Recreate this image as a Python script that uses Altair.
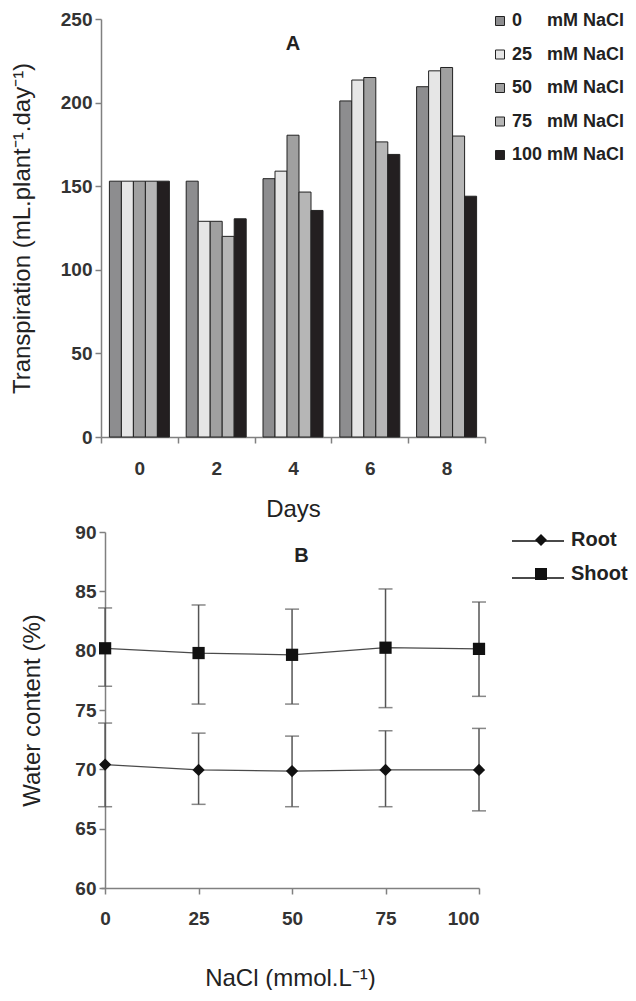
import altair as alt
import pandas as pd

# ---------------- Panel A data ----------------
days = ["0", "2", "4", "6", "8"]
concentrations = ["0", "25", "50", "75", "100"]
transp_0 = [153, 153, 154.5, 201, 209.5]
transp_25 = [153, 129, 159, 213.5, 219]
transp_50 = [153, 129, 180.5, 215, 221]
transp_75 = [153, 120, 146.5, 176.5, 180]
transp_100 = [153, 130.5, 135.5, 169, 144]
bar_colors = ["#8d8d8f", "#e6e6e6", "#a0a0a0", "#b6b6b6", "#231f20"]

# ---------------- Panel B data ----------------
nacl = [0, 25, 50, 75, 100]
root_mean = [70.4, 69.95, 69.85, 69.95, 69.95]
root_upper = [73.9, 73.05, 72.8, 73.25, 73.45]
root_lower = [66.85, 67.05, 66.85, 66.85, 66.5]
shoot_mean = [80.2, 79.8, 79.65, 80.25, 80.15]
shoot_upper = [83.6, 83.85, 83.5, 85.2, 84.1]
shoot_lower = [77.0, 75.5, 75.5, 75.2, 76.15]
series_names = ["Root", "Shoot"]
panel_letters = ["A", "B"]

FONT = "Liberation Sans"
AXIS_GREY = "#808080"
TEXT = "#222222"

conc_labels = [c + "\u00a0" * (2 * (3 - len(c))) + " mM NaCl" for c in concentrations]
rowsA = []
for lab, vals in zip(conc_labels, [transp_0, transp_25, transp_50, transp_75, transp_100]):
    for d, v in zip(days, vals):
        rowsA.append({"day": d, "conc": lab, "value": v})
dfA = pd.DataFrame(rowsA)

rowsB = []
for s, m, lo, up in [("Root", root_mean, root_lower, root_upper),
                     ("Shoot", shoot_mean, shoot_lower, shoot_upper)]:
    for x, a, b, c in zip(nacl, m, lo, up):
        rowsB.append({"series": s, "nacl": x, "mean": a, "lower": b, "upper": c})
dfB = pd.DataFrame(rowsB)

common_axis = dict(
    labelFont=FONT, labelFontSize=19, labelFontWeight="bold", labelColor="#333333",
    titleFont=FONT, titleFontSize=24, titleFontWeight="normal", titleColor=TEXT,
    domainColor=AXIS_GREY, domainWidth=1.5, tickColor=AXIS_GREY, tickWidth=1.5,
    tickSize=6, grid=False,
)

# ---------------- Chart A ----------------
xA = alt.X("day:N", sort=days,
           scale=alt.Scale(paddingInner=0, paddingOuter=0),
           axis=alt.Axis(title="Days", labelAngle=0, tickBand="extent",
                         labelPadding=16, titlePadding=19, **common_axis))
yA_scale = alt.Scale(domain=[0, 250], nice=False)
yA_axis = alt.Axis(title="Transpiration (mL.plant\u207b\u00b9.day\u207b\u00b9)",
                   values=[0, 50, 100, 150, 200, 250], labelPadding=3,
                   titlePadding=26, **common_axis)

bars = alt.Chart(dfA).mark_bar(stroke="#222222", strokeWidth=1).encode(
    x=xA,
    xOffset=alt.XOffset("conc:N", sort=conc_labels,
                        scale=alt.Scale(paddingInner=0, paddingOuter=0.7)),
    y=alt.Y("value:Q", scale=yA_scale, axis=yA_axis),
    color=alt.Color("conc:N", sort=conc_labels,
                    scale=alt.Scale(domain=conc_labels, range=bar_colors),
                    legend=alt.Legend(title=None, orient="none", legendX=390, legendY=-7,
                                      padding=0, symbolType="square", symbolSize=81,
                                      symbolStrokeColor="#222222", symbolStrokeWidth=1,
                                      labelFont=FONT, labelFontSize=18, labelFontWeight="bold",
                                      labelColor=TEXT, labelOffset=3, rowPadding=15.5,
                                      labelLimit=300)),
)

letterA = alt.Chart(pd.DataFrame({"panel": [panel_letters[0]]})).mark_text(
    font=FONT, fontSize=20, fontWeight="bold", color=TEXT, baseline="middle", align="center"
).encode(x=alt.datum("4"), y=alt.datum(235), text="panel:N")

chartA = alt.layer(bars, letterA).properties(width=384, height=418)

# ---------------- Chart B ----------------
xB_scale = alt.Scale(domain=[-1.1, 100], nice=False, zero=False)
yB_scale = alt.Scale(domain=[60, 90], nice=False, zero=False)
xB_axis = alt.Axis(title="NaCl (mmol.L\u207b\u00b9)", values=nacl, labelPadding=15,
                   titlePadding=38, **common_axis)
yB_axis = alt.Axis(title="Water content (%)", values=[60, 65, 70, 75, 80, 85, 90],
                   labelPadding=3, titlePadding=30, offset=-4, **common_axis)


def xb(field="nacl"):
    return alt.X(field, type="quantitative", scale=xB_scale, axis=xB_axis,
                 title="NaCl (mmol.L\u207b\u00b9)")


def yb(field):
    return alt.Y(field, type="quantitative", scale=yB_scale, axis=yB_axis,
                 title="Water content (%)")


baseB = alt.Chart(dfB)
err = baseB.mark_rule(color="#555555", strokeWidth=1.5).encode(
    x=xb(), y=yb("lower"), y2="upper:Q")
cap_lo = baseB.mark_tick(orient="horizontal", color="#555555", size=14, thickness=1.5).encode(
    x=xb(), y=yb("lower"))
cap_hi = baseB.mark_tick(orient="horizontal", color="#555555", size=14, thickness=1.5).encode(
    x=xb(), y=yb("upper"))
line = baseB.mark_line(strokeWidth=1.3).encode(
    x=xb(), y=yb("mean"),
    color=alt.Color("series:N", scale=alt.Scale(domain=series_names, range=["#4a4a4a", "#4a4a4a"]),
                    legend=alt.Legend(title=None, orient="none", legendX=410, legendY=-18,
                                      padding=0, symbolType="stroke", symbolSize=2704,
                                      symbolStrokeWidth=2, labelExpr="''",
                                      labelFont=FONT, labelFontSize=20, labelFontWeight="bold",
                                      rowPadding=-23)))
pts = baseB.mark_point(filled=True, opacity=1, color="#111111", size=150).encode(
    x=xb(), y=yb("mean"),
    shape=alt.Shape("series:N",
                    scale=alt.Scale(domain=series_names, range=["diamond", "square"]),
                    legend=alt.Legend(
                        title=None, orient="none", legendX=430, legendY=-2, padding=0,
                        symbolSize=144, symbolFillColor="#111111", symbolStrokeWidth=0,
                        labelFont=FONT, labelFontSize=20, labelFontWeight="bold",
                        labelColor=TEXT, labelOffset=20, rowPadding=14, zindex=2,
                    )),
)
letterB = alt.Chart(pd.DataFrame({"panel": [panel_letters[1]]})).mark_text(
    font=FONT, fontSize=20, fontWeight="bold", color=TEXT, baseline="middle", align="center"
).encode(x=alt.datum(52.5), y=alt.datum(88.0), text="panel:N")

chartB = alt.layer(err, cap_lo, cap_hi, line, pts, letterB).resolve_legend(
    color="independent", shape="independent"
).properties(width=378, height=356)

chart = alt.vconcat(chartA, chartB, spacing=95, bounds="flush").resolve_scale(
    color="independent", shape="independent"
).resolve_legend(
    color="independent", shape="independent"
).properties(
    padding={"top": 2, "left": 2, "right": 0, "bottom": 0},
    background="white",
).configure_view(stroke=None)

chart.save("out.html", embed_options={"renderer": "svg", "actions": False})
